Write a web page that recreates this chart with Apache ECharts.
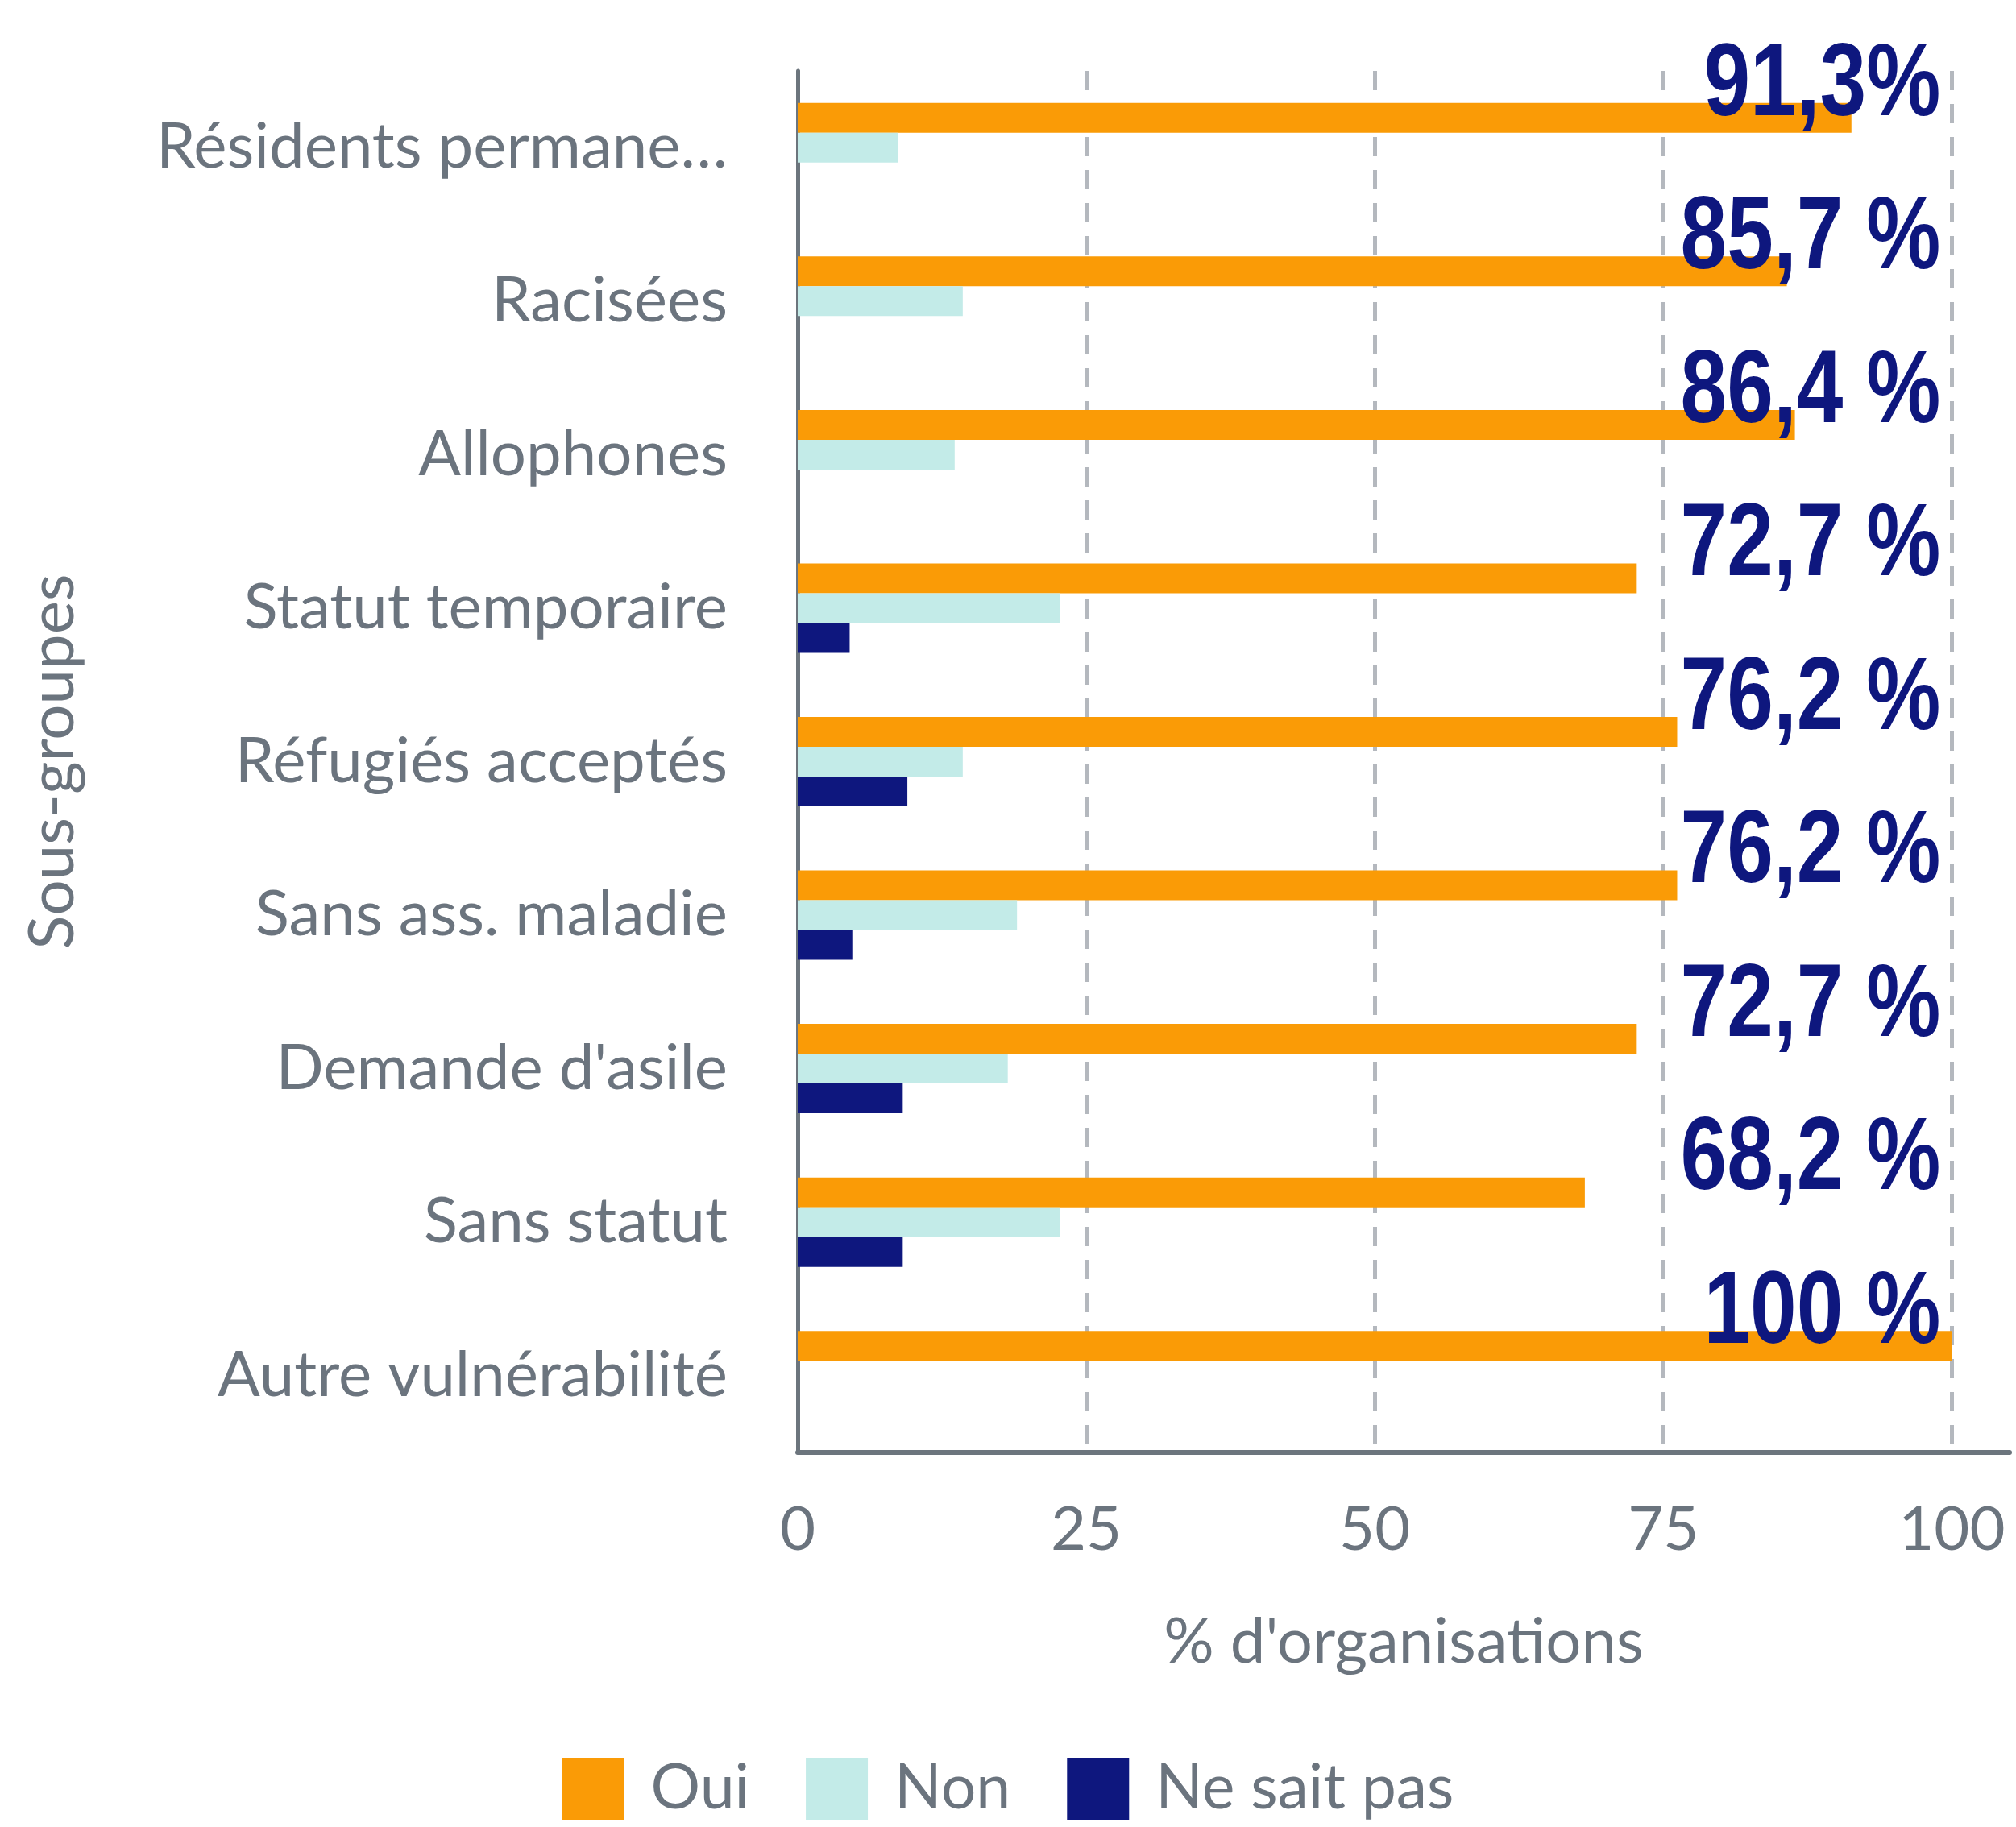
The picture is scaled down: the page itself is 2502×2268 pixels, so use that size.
<!DOCTYPE html>
<html>
<head>
<meta charset="utf-8">
<title>Sous-groupes</title>
<script src="https://cdn.jsdelivr.net/npm/echarts@6/dist/echarts.min.js"></script>
<style>
    html, body { margin: 0; padding: 0; background: #fff; }
    #chart { width: 2502px; height: 2268px; }
</style>
</head>
<body>
<div id="chart"></div>
<script>
var categories = ['Résidents permane…', 'Racisées', 'Allophones', 'Statut temporaire', 'Réfugiés acceptés', 'Sans ass. maladie', "Demande d'asile", 'Sans statut', 'Autre vulnérabilité']
var oui = [91.3, 85.7, 86.4, 72.7, 76.2, 76.2, 72.7, 68.2, 100]
var non = [8.7, 14.3, 13.6, 22.7, 14.3, 19.0, 18.2, 22.7, 0]
var nsp = [0, 0, 0, 4.5, 9.5, 4.8, 9.1, 9.1, 0]
var valueLabels = ['91,3%', '85,7 %', '86,4 %', '72,7 %', '76,2 %', '76,2 %', '72,7 %', '68,2 %', '100 %']
var xTicks = [0, 25, 50, 75, 100]

var grey = '#6b747e'
var navy = '#0e177e'

function barSeries(name, data, color) {
    return {
        name: name,
        type: 'bar',
        data: data,
        barWidth: 37,
        barGap: 0,
        itemStyle: { color: color },
        emphasis: { disabled: true }
    }
}

// étiquettes "Oui" en police étroite, calées à droite sur 100
function renderLabel(params, api) {
    var pt = api.coord([api.value(0), api.value(1)])
    return {
        type: 'text',
        x: pt[0] - 14,
        y: pt[1] - 76,
        scaleX: 0.81,
        style: {
            text: valueLabels[params.dataIndex],
            fontFamily: '"Liberation Sans", Arial, sans-serif',
            fontWeight: 'bold',
            fontSize: 128,
            fill: navy,
            align: 'right',
            verticalAlign: 'middle'
        }
    }
}

var myChart = echarts.init(document.getElementById('chart'))

var option = {
    animation: false,
    textStyle: { fontFamily: 'Lato' },
    grid: { left: 990, right: 8, top: 88, bottom: 465 },
    legend: {
        bottom: 4,
        left: 'center',
        icon: 'rect',
        itemWidth: 77,
        itemHeight: 77,
        itemGap: 70,
        data: ['Oui', 'Non', 'Ne sait pas'],
        textStyle: { fontSize: 77, color: grey, fontFamily: 'Lato', padding: [0, 0, 0, 28] }
    },
    xAxis: {
        type: 'value',
        min: 0,
        max: 105,
        interval: 25,
        name: "% d'organisations",
        nameLocation: 'middle',
        nameGap: 197,
        nameTextStyle: { fontSize: 78, color: grey, fontFamily: 'Lato' },
        axisLine: { show: true, lineStyle: { color: '#6c757d', width: 6 } },
        axisTick: { show: false },
        axisLabel: {
            fontSize: 76,
            color: grey,
            margin: 58,
            showMaxLabel: false,
            formatter: function (v) { return xTicks.indexOf(v) >= 0 ? String(v) : '' }
        },
        splitLine: {
            show: true,
            showMinLine: false,
            showMaxLine: false,
            lineStyle: { color: '#b4b8be', width: 5, type: [24, 17] }
        }
    },
    yAxis: {
        type: 'category',
        data: categories,
        inverse: true,
        name: 'Sous-groupes',
        nameLocation: 'middle',
        nameGap: 885,
        nameTextStyle: { fontSize: 78, color: grey, fontFamily: 'Lato' },
        axisLine: { show: true, lineStyle: { color: '#6c757d', width: 5 } },
        axisTick: { show: false },
        axisLabel: { fontSize: 78, color: grey, margin: 87 }
    },
    series: [
        barSeries('Oui', oui, '#fa9b06'),
        barSeries('Non', non, '#c3ebe8'),
        barSeries('Ne sait pas', nsp, navy),
        {
            type: 'custom',
            silent: true,
            z: 10,
            renderItem: renderLabel,
            data: categories.map(function (c, i) { return [xTicks[xTicks.length - 1], i] })
        }
    ]
}

myChart.setOption(option)
window.addEventListener('resize', function () {
    myChart.resize()
})
</script>
</body>
</html>
